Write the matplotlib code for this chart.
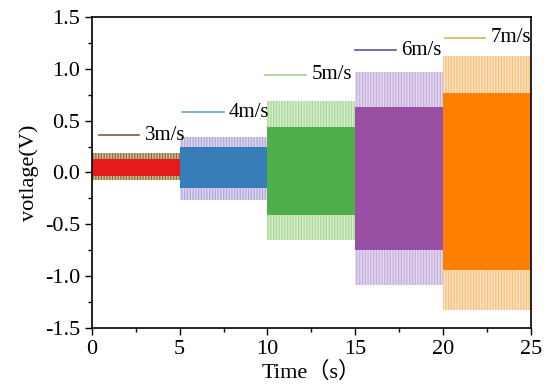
import numpy as np
import matplotlib.pyplot as plt

# segment data (one segment per wind speed, 5 s each)
speeds = ['3m/s', '4m/s', '5m/s', '6m/s', '7m/s']
t_start = [0, 5, 10, 15, 20]
t_len = [5, 5, 5, 5, 5]
band_top = [0.13, 0.25, 0.44, 0.63, 0.77]
band_bot = [-0.03, -0.15, -0.41, -0.75, -0.94]
env_top = [0.19, 0.34, 0.69, 0.97, 1.12]
env_bot = [-0.07, -0.27, -0.65, -1.08, -1.33]

band_colors = ['#e41a1c', '#377eb8', '#4daf4a', '#984ea3', '#ff7f00']
env_colors = ['#8f6d2e', '#b3a7dc', '#a9d896', '#c5acdd', '#f7c27a']
label_colors = ['#8b5a2b', '#6fa3d6', '#a9cf8a', '#5e52a3', '#d4b84a']

# label line positions (data coords)
lab_x0 = [0.4, 5.15, 9.85, 15.0, 20.1]
lab_x1 = [2.7, 7.5, 12.2, 17.3, 22.4]
lab_y = [0.36, 0.58, 0.94, 1.18, 1.30]

plt.rcParams['font.family'] = ['Liberation Serif', 'Noto Sans CJK SC']
plt.rcParams['hatch.linewidth'] = 0.9
fontsize = 16

fig = plt.figure(figsize=(5.5, 3.92), dpi=100)
ax = fig.add_axes([0.167, 0.163, 0.798, 0.794])

for i in range(len(speeds)):
    # light oscillation envelope
    ax.bar(t_start[i], env_top[i] - env_bot[i], width=t_len[i], bottom=env_bot[i],
           align='edge', color=env_colors[i], alpha=0.45, linewidth=0)
    ax.bar(t_start[i], env_top[i] - env_bot[i], width=t_len[i], bottom=env_bot[i],
           align='edge', facecolor='none', edgecolor=env_colors[i], hatch='||||||',
           linewidth=0)
    # dense core of the signal
    ax.bar(t_start[i], band_top[i] - band_bot[i], width=t_len[i], bottom=band_bot[i],
           align='edge', color=band_colors[i], linewidth=0)
    # label
    ax.plot([lab_x0[i], lab_x1[i]], [lab_y[i], lab_y[i]], color=label_colors[i], lw=1.2)
    ax.text(lab_x1[i] + 0.3, lab_y[i], speeds[i], fontsize=15,
            va='center', ha='left')

ax.set_xlim(0, 25)
ax.set_ylim(-1.5, 1.5)
ax.set_xticks(np.arange(0, 26, 5))
ax.set_xticks(np.arange(0, 26, 2.5), minor=True)
ax.set_yticks(np.arange(-1.5, 1.6, 0.5))
ax.set_yticks(np.arange(-1.5, 1.6, 0.25), minor=True)
ax.set_yticklabels(['%.1f' % v for v in np.arange(-1.5, 1.6, 0.5)])
ax.tick_params(axis='both', which='major', direction='out', length=5, width=1,
               labelsize=fontsize)
ax.tick_params(axis='both', which='minor', direction='out', length=3, width=1)
for s in ax.spines.values():
    s.set_linewidth(1.2)

ax.set_xlabel('Time（s）', fontsize=fontsize, labelpad=2)
ax.set_ylabel('votlage(V)', fontsize=fontsize)

fig.savefig('out.png', dpi=100)
